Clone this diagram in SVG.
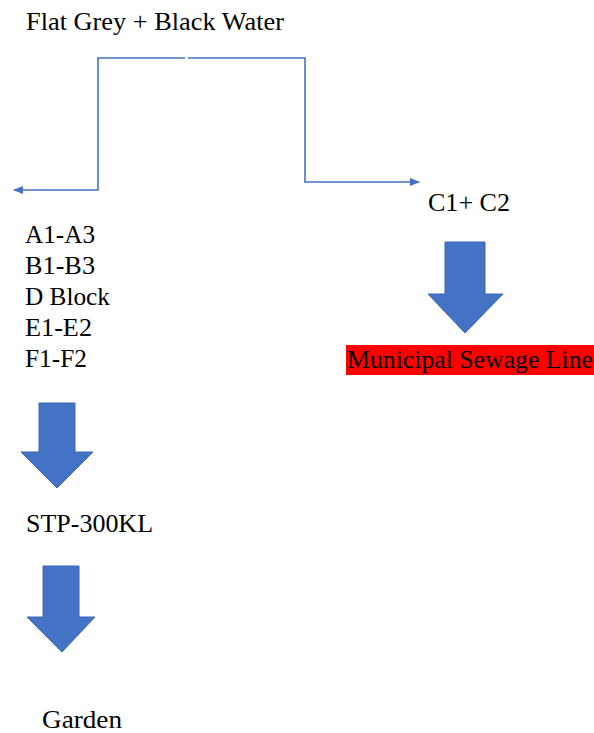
<svg xmlns="http://www.w3.org/2000/svg" width="594" height="733" viewBox="0 0 594 733">
<defs>
<style>
.t{font-family:"Liberation Serif","Times New Roman",serif;font-size:26px;fill:#000}
.c{fill:none;stroke:#4472C4;stroke-width:1.6}
.fa{fill:#4472C4;stroke:#3A66B5;stroke-width:1}
</style>
<marker id="ah" markerWidth="10" markerHeight="8" refX="9" refY="4" orient="auto" markerUnits="userSpaceOnUse">
<path d="M0,0 L10,4 L0,8 Z" fill="#4472C4"/>
</marker>
</defs>
<rect width="594" height="733" fill="#fff"/>
<g id="connectors">
<path class="c" d="M185,58 H98 V190 H14" marker-end="url(#ah)"/>
<path class="c" d="M188,58 H305 V182 H419" marker-end="url(#ah)"/>
<polygon class="fa" points="445,242 485,242 485,294 503,294 465,333 428,294 445,294"/>
<polygon class="fa" points="39,403 75,403 75,452 93,452 57,488 21,452 39,452"/>
<polygon class="fa" points="43,566 79,566 79,617 95,617 62,652 27,617 43,617"/>
</g>
<g id="source"><text class="t" x="26" y="30" textLength="258" lengthAdjust="spacingAndGlyphs">Flat Grey + Black Water</text></g>
<g id="blocks">
<text class="t" x="25" y="243" textLength="70" lengthAdjust="spacingAndGlyphs">A1-A3</text>
<text class="t" x="25" y="274" textLength="70" lengthAdjust="spacingAndGlyphs">B1-B3</text>
<text class="t" x="25" y="305" textLength="85" lengthAdjust="spacingAndGlyphs">D Block</text>
<text class="t" x="25" y="336" textLength="67" lengthAdjust="spacingAndGlyphs">E1-E2</text>
<text class="t" x="25" y="367" textLength="62" lengthAdjust="spacingAndGlyphs">F1-F2</text>
</g>
<g id="c-blocks"><text class="t" x="428" y="211" textLength="82" lengthAdjust="spacingAndGlyphs">C1+ C2</text></g>
<g id="municipal">
<rect x="346" y="345" width="248" height="30" fill="#FF0000"/>
<text class="t" x="347" y="368" textLength="246" lengthAdjust="spacingAndGlyphs">Municipal Sewage Line</text>
</g>
<g id="stp"><text class="t" x="26" y="532" textLength="127" lengthAdjust="spacingAndGlyphs">STP-300KL</text></g>
<g id="garden"><text class="t" x="42" y="728" textLength="80" lengthAdjust="spacingAndGlyphs">Garden</text></g>
</svg>
